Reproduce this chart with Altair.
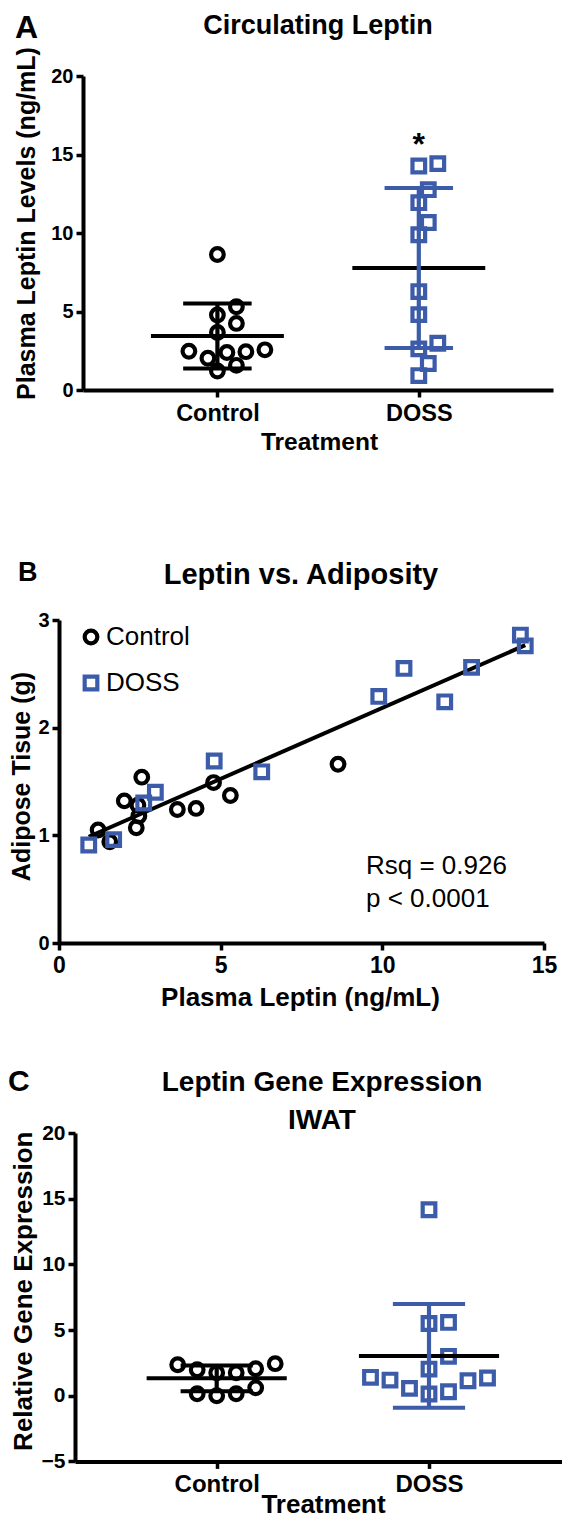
import altair as alt
import pandas as pd

# ---------------- data ----------------
groups = ["Control", "DOSS"]
group_colors = ["#000000", "#3c5caa"]
group_shapes = ["circle", "square"]

# Plasma leptin (ng/mL) and adipose tissue (g), per animal
leptin_control = [1.21, 1.57, 2.02, 2.44, 2.47, 2.39, 2.56, 3.66, 4.24, 4.78, 5.30, 8.63]
adipose_control = [1.05, 0.94, 1.32, 1.28, 1.18, 1.07, 1.54, 1.24, 1.25, 1.49, 1.37, 1.66]
leptin_doss = [0.92, 1.69, 2.62, 2.98, 4.80, 6.27, 9.89, 10.67, 11.93, 12.76, 14.27, 14.42]
adipose_doss = [0.91, 0.96, 1.30, 1.40, 1.69, 1.59, 2.29, 2.55, 2.24, 2.56, 2.86, 2.76]

# Relative leptin gene expression, IWAT
expr_control = [2.36, 2.05, 1.75, 1.75, 1.98, 2.44, 0.15, 0.00, 0.15, 0.60]
expr_doss = [14.16, 5.50, 5.58, 3.00, 2.03, 1.40, 1.19, 0.56, 0.13, 0.30, 1.14, 1.35]

yticks_a = [0, 5, 10, 15, 20]
xticks_b = [0, 5, 10, 15]
yticks_b = [0, 1, 2, 3]
yticks_c = [-5, 0, 5, 10, 15, 20]

panel_letters = ["A", "B", "C"]
title_a = ["Circulating Leptin"]
title_b = ["Leptin vs. Adiposity"]
title_c = ["Leptin Gene Expression", "IWAT"]
ytitle_a = "Plasma Leptin Levels (ng/mL)"
ytitle_b = "Adipose Tisue (g)"
ytitle_c = "Relative Gene Expression"
xtitle_ab = "Treatment"
xtitle_b = "Plasma Leptin (ng/mL)"
stats_lines = ["Rsq = 0.926", "p < 0.0001"]
sig_mark = ["*"]

FONT = "Liberation Sans"
MSIZE, MSTROKE = 160, 4.2
label_expr = "[" + ",".join("'%s'" % g for g in groups) + "][datum.value - 1]"

color_scale = alt.Scale(domain=groups, range=group_colors)
shape_scale = alt.Scale(domain=groups, range=group_shapes)


def swarm(values, ppu, diam, step):
    order = sorted(range(len(values)), key=lambda i: values[i])
    cands = [0.0]
    for k in range(1, 40):
        cands += [k * step, -k * step]
    placed, offs = [], [0.0] * len(values)
    for i in order:
        yp = values[i] * ppu
        for c in cands:
            if all((c - px) ** 2 + (yp - py) ** 2 >= diam ** 2 for px, py in placed):
                break
        placed.append((c, yp))
        offs[i] = c
    return offs


def dot_frame(ctrl, doss, ppu_y, ppu_x, diam, step):
    rows = []
    for gi, (g, vals) in enumerate(zip(groups, [ctrl, doss])):
        offs = swarm(vals, ppu_y, diam, step)
        for v, o in zip(vals, offs):
            rows.append({"group": g, "pos": gi + 1, "xj": gi + 1 + o / ppu_x, "value": v})
    return pd.DataFrame(rows)


def text_layer(lines, x, y, size, weight="bold", align="center", baseline="alphabetic", line_height=None):
    kw = dict(font=FONT, fontSize=size, fontWeight=weight, align=align, baseline=baseline, color="black")
    if line_height:
        kw.update(lineBreak="\n", lineHeight=line_height)
    return alt.Chart(pd.DataFrame({"t": ["\n".join(lines)]})).mark_text(**kw).encode(
        x=alt.value(x), y=alt.value(y), text="t:N")


def dot_panel(df, width, height, x_lo, p1, p2, x_hi, ydom, yticks, yaxis_kw, xaxis_kw,
              ysize, xsize, extras):
    unit = p2 - p1
    xs = alt.Scale(domain=[1 + (x_lo - p1) / unit, 1 + (x_hi - p1) / unit],
                   range=[x_lo, x_hi], nice=False, zero=False)
    ys = alt.Scale(domain=ydom, nice=False, zero=False)
    xaxis = alt.Axis(values=[1, 2], labelExpr=label_expr, labelFontSize=xsize, labelPadding=4,
                     titleAngle=0, titleAlign="center", titleBaseline="alphabetic", **xaxis_kw)
    yaxis = alt.Axis(values=yticks, labelFontSize=ysize, titleAngle=-90, titleAlign="center",
                     titleBaseline="middle", **yaxis_kw)

    def X(f):
        return alt.X(f, scale=xs, axis=xaxis)

    def Y(f):
        return alt.Y(f, scale=ys, axis=yaxis)

    col = alt.Color("group:N", scale=color_scale, legend=None)
    pts = alt.Chart(df).mark_point(filled=False, size=MSIZE, strokeWidth=MSTROKE, opacity=1).encode(
        x=X("xj:Q"), y=Y("value:Q"), color=col,
        shape=alt.Shape("group:N", scale=shape_scale, legend=None))
    stats = alt.Chart(df).transform_aggregate(
        m="mean(value)", s="stdev(value)", groupby=["group", "pos"]
    ).transform_calculate(
        lo="datum.m - datum.s", hi="datum.m + datum.s",
        ml="datum.pos - 0.33", mr="datum.pos + 0.33",
        cl="datum.pos - 0.17", cr="datum.pos + 0.17")
    mean_rule = stats.mark_rule(color="black", strokeWidth=4).encode(
        x=X("ml:Q"), x2="mr:Q", y=Y("m:Q"))
    sd_rule = stats.mark_rule(strokeWidth=4.2).encode(
        x=X("pos:Q"), y=Y("lo:Q"), y2="hi:Q", color=col)
    cap_hi = stats.mark_rule(strokeWidth=4).encode(
        x=X("cl:Q"), x2="cr:Q", y=Y("hi:Q"), color=col)
    cap_lo = stats.mark_rule(strokeWidth=4).encode(
        x=X("cl:Q"), x2="cr:Q", y=Y("lo:Q"), color=col)
    layers = [pts, mean_rule, sd_rule, cap_hi, cap_lo] + [e(X) for e in extras]
    return alt.layer(*layers).properties(width=width, height=height)


# ---------------- Panel A ----------------
dfA = dot_frame(leptin_control, leptin_doss, 314 / 20, 201.4, 15, 9.5)


def star_layer(X):
    return alt.Chart(pd.DataFrame({"pos": [2], "t": sig_mark})).mark_text(
        font=FONT, fontSize=32, fontWeight="bold", color="black", baseline="alphabetic"
    ).encode(x=X("pos:Q"), y=alt.value(79), text="t:N")


def a_letter(X):
    return text_layer([panel_letters[0]], -44, -63, 32, align="left", baseline="top")


def a_title(X):
    return text_layer(title_a, 259, -63, 27, baseline="top")


panelA = dot_panel(
    dfA, 494, 314, 24, 158.4, 359.8, 494, [0, 20], yticks_a,
    dict(offset=-24, title=ytitle_a, titleX=-57, titleY=147, titleFontSize=25),
    dict(title=xtitle_ab, titleX=260, titleY=59, titleFontSize=24.5),
    20, 23.5, [star_layer, a_letter, a_title])

# ---------------- Panel B ----------------
dfB = pd.DataFrame({
    "group": [groups[0]] * len(leptin_control) + [groups[1]] * len(leptin_doss),
    "leptin": leptin_control + leptin_doss,
    "adipose": adipose_control + adipose_doss,
})
xsB = alt.Scale(domain=[0, 15], range=[0, 485], nice=False, zero=False)
ysB = alt.Scale(domain=[0, 3], range=[363, 40], nice=False, zero=False)
xaxB = alt.Axis(values=xticks_b, labelFontSize=23, labelPadding=4, title=xtitle_b,
                titleX=241, titleY=62, titleAngle=0, titleAlign="center",
                titleBaseline="alphabetic", titleFontSize=26)
yaxB = alt.Axis(values=yticks_b, labelFontSize=20, title=ytitle_b, titleX=-38,
                titleY=196, titleAngle=-90, titleAlign="center",
                titleBaseline="middle", titleFontSize=25)
legB = alt.Legend(orient="none", legendX=19, legendY=44, title=None, labelFont=FONT,
                  labelFontSize=26, labelFontWeight="normal", labelColor="black",
                  symbolSize=MSIZE, symbolStrokeWidth=MSTROKE, rowPadding=16, labelOffset=2,
                  padding=0)
reg = alt.Chart(dfB).transform_regression("leptin", "adipose").mark_line(
    color="black", strokeWidth=4).encode(
    x=alt.X("leptin:Q", scale=xsB, axis=xaxB), y=alt.Y("adipose:Q", scale=ysB, axis=yaxB))
ptsB = alt.Chart(dfB).mark_point(filled=False, size=MSIZE, strokeWidth=MSTROKE, opacity=1).encode(
    x=alt.X("leptin:Q", scale=xsB, axis=xaxB),
    y=alt.Y("adipose:Q", scale=ysB, axis=yaxB),
    color=alt.Color("group:N", scale=color_scale, legend=legB),
    shape=alt.Shape("group:N", scale=shape_scale, legend=legB))
panelB = alt.layer(
    reg, ptsB,
    text_layer(stats_lines, 307, 294, 26, weight="normal", align="left", line_height=33.4),
    text_layer([panel_letters[1]], -41, 1, 27, align="left"),
    text_layer(title_b, 242, 4, 29),
).properties(width=485, height=363)

# ---------------- Panel C ----------------
dfC = dot_frame(expr_control, expr_doss, 328.4 / 25, 212.3, 18, 9.75)


def c_letter(X):
    return text_layer([panel_letters[2]], -51, -42, 30, align="left")


def c_title(X):
    return text_layer(title_c, 263, -42, 28, line_height=37.7)


panelC = dot_panel(
    dfC, 503, 328.4, 16, 157.7, 370, 503, [-5, 20], yticks_c,
    dict(offset=-16, title=ytitle_c, titleX=-52, titleY=157.7, titleFontSize=26),
    dict(title=xtitle_ab, titleX=264, titleY=51, titleFontSize=26),
    21, 24, [c_letter, c_title])

chart = alt.vconcat(panelA, panelB, panelC, spacing=190, bounds="flush").resolve_scale(
    x="independent", y="independent", color="independent", shape="independent"
).properties(
    padding={"left": 0, "top": 4, "right": 0, "bottom": 0}, background="white"
).configure_axis(
    domainColor="black", domainWidth=4, tickColor="black", tickWidth=3.5, tickSize=7,
    labelFont=FONT, labelFontWeight="bold", labelColor="black", labelPadding=3,
    titleFont=FONT, titleFontWeight="bold", titleColor="black", grid=False,
    labelFlush=False, labelOverlap=False
).configure_view(stroke=None)

chart.save("out.html", embed_options={"renderer": "svg", "actions": False})
